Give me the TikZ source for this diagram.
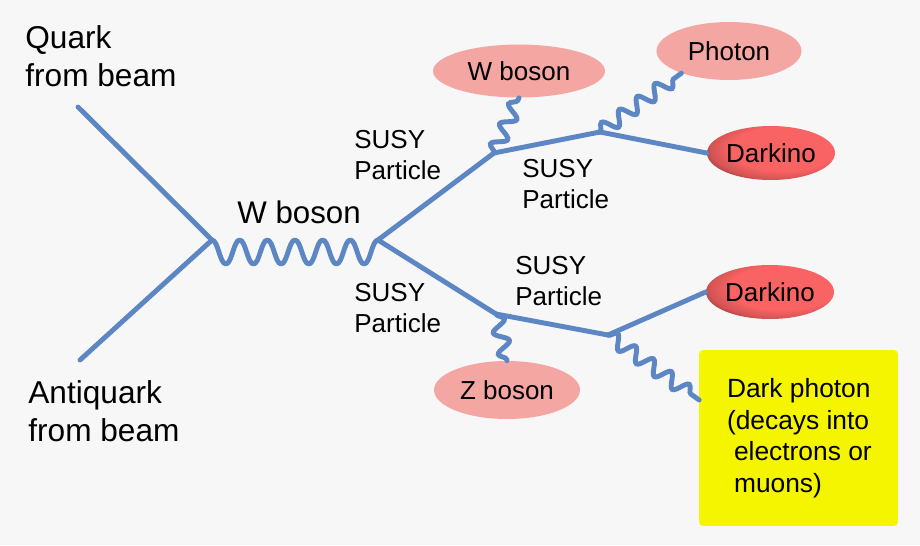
\documentclass[tikz,border=0pt]{standalone}
\usepackage{fontspec}
\setmainfont{Liberation Sans}
\usepackage{tikz}
\usetikzlibrary{shapes.geometric, decorations.pathmorphing}
\definecolor{pagegrey}{HTML}{F7F7F7}
\definecolor{lineblue}{HTML}{5C87C4}
\definecolor{softpink}{HTML}{F4A6A3}
\definecolor{darkred}{HTML}{FA6363}
\definecolor{boxyellow}{HTML}{F5F500}
\pgfdeclareradialshading{darkglow}{\pgfpoint{0.25cm}{0.2cm}}{%
  color(0cm)=(darkred); color(0.72cm)=(darkred); color(0.98cm)=(darkred!85!black);
  color(1.3cm)=(darkred!35!black); color(2.4cm)=(darkred!35!black)}

\begin{document}
\begin{tikzpicture}[
  x=0.02cm, y=-0.02cm,
  line/.style={line width=2.8pt, lineblue, line cap=round, line join=round},
  wave/.style={line width=2.8pt, lineblue, line cap=round, decorate,
               decoration={snake, segment length=0.44cm, amplitude=0.14cm}},
  boson/.style={ellipse, fill=softpink, inner sep=0pt,
                font=\fontsize{14.8}{18}\selectfont},
  darkino/.style={ellipse, shading=darkglow, inner sep=0pt,
                minimum width=2.56cm, minimum height=1.08cm,
                font=\fontsize{14.8}{18}\selectfont},
  beam/.style={anchor=west, align=left, inner sep=0pt, font=\fontsize{18}{21.5}\selectfont},
  label/.style={anchor=west, align=left, inner sep=0pt, font=\fontsize{14.8}{18.1}\selectfont},
]
\fill[pagegrey] (0,0) rectangle (920,545);

%% Particles at the ends
\node[boson, minimum width=3.44cm, minimum height=1.06cm] (wtop) at (519,71) {W boson};
\node[boson, minimum width=2.9cm, minimum height=1.16cm] (photon) at (729,51) {Photon};
\node[boson, minimum width=2.92cm, minimum height=1.16cm] (zbos) at (507,390) {Z boson};
\node[darkino] (darka) at (771,153) {Darkino};
\node[darkino] (darkb) at (770,292) {Darkino};
\node[draw=boxyellow, fill=boxyellow, rounded corners=2pt, minimum width=3.96cm,
      minimum height=3.5cm, align=left, font=\fontsize{15}{18}\selectfont] (dark) at (798.5,438)
  {\hspace*{1pt}Dark photon\\\hspace*{1pt}(decays into\\\hspace*{5pt}electrons or\\\hspace*{5pt}muons)};

%% Vertices
\coordinate (quark) at (78,107);
\coordinate (anti) at (80,360);
\coordinate (va) at (212,240);
\coordinate (vb) at (378,240);
\coordinate (vc) at (494,153);
\coordinate (vd) at (600,132);
\coordinate (ve) at (496,314);
\coordinate (vf) at (608,335);

\draw[line] (quark) -- (va);
\draw[line] (anti) -- (va);
\draw[line] (va) foreach \i in {1,...,6} {
  .. controls +(6,0) and +(-6,0) .. ++(13.83,24)
  .. controls +(6,0) and +(-6,0) .. ++(13.83,-24)};
\draw[line] (vb) -- (vc);
\draw[line] (vc) -- (vd);
\draw[line] (vd) -- (darka.west);
\draw[line] (vb) -- (ve);
\draw[line] (ve) -- (vf);
\draw[line] (vf) -- (darkb.west);

\draw[wave] (vc) -- (wtop.south);
\draw[wave] (vd) -- (photon.205);
\draw[wave] (ve) -- (zbos.north);
\draw[wave] (vf) -- (dark.west |- 0,400);

%% Labels
\node[beam] (qtxt) at (25,56) {Quark\\from beam};
\node[beam] (atxt) at (28,411) {Antiquark\\from beam};
\node[anchor=west, inner sep=0pt, font=\fontsize{17.8}{21}\selectfont] (wtxt) at (237,212) {W boson};
\node[label] (susya) at (354,155) {SUSY\\Particle};
\node[label] (susyb) at (522,184) {SUSY\\Particle};
\node[label] (susyc) at (354,308) {SUSY\\Particle};
\node[label] (susyd) at (515,281) {SUSY\\Particle};
\end{tikzpicture}
\end{document}
